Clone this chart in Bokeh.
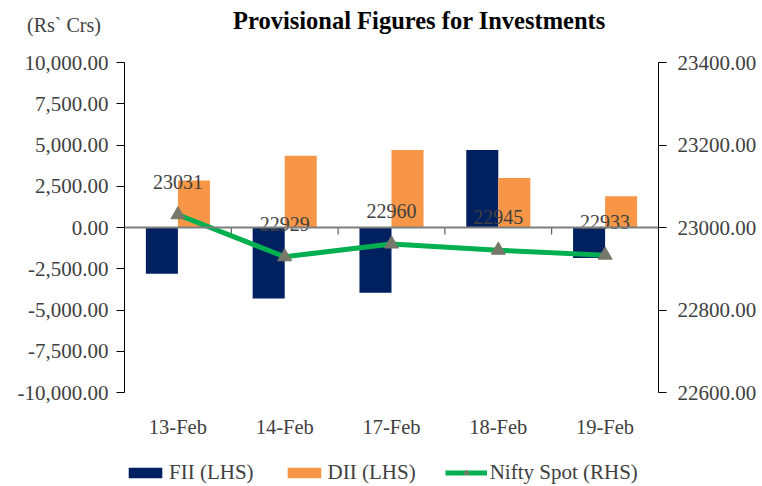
import math
from bokeh.plotting import figure
from bokeh.layouts import column
from bokeh.models import (ColumnDataSource, FactorRange, Range1d, LinearAxis, NumeralTickFormatter,
                          FixedTicker, Span, Legend, LegendItem, Div)
from bokeh.transform import dodge
from bokeh.core.properties import value
from bokeh.embed import file_html
from bokeh.resources import INLINE

# ---- data ----
dates = ["13-Feb", "14-Feb", "17-Feb", "18-Feb", "19-Feb"]
fii = [-2800, -4300, -3950, 4700, -1850]
dii = [2850, 4350, 4700, 3000, 1900]
nifty = [23031, 22929, 22960, 22945, 22933]
left_ticks = [-10000, -7500, -5000, -2500, 0, 2500, 5000, 7500, 10000]
right_ticks = [22600, 22800, 23000, 23200, 23400]
left_range = (-10000, 10000)
right_range = (22600, 23400)
title_text = "Provisional Figures for Investments"
unit_text = "(Rs` Crs)"
series_names = ["FII (LHS)", "DII (LHS)", "Nifty Spot (RHS)"]

FONT = "Liberation Serif"
NAVY = "#002060"
ORANGE = "#F79646"
GREEN = "#00B050"
MARK = "#77776A"
TXT = "#404040"

header = Div(
    text=(f'<div style="position:relative;width:753px;height:34px;font-family:\'{FONT}\',serif;">'
          f'<span style="position:absolute;left:22px;top:10px;font-size:20px;line-height:1;'
          f'color:{TXT};white-space:nowrap;">{unit_text}</span>'
          f'<span style="position:absolute;left:228px;top:4px;font-size:24.5px;line-height:1;'
          f'font-weight:bold;color:#000;white-space:nowrap;">{title_text}</span></div>'),
    width=753, height=34)

src = ColumnDataSource(dict(date=dates, fii=fii, dii=dii, nifty=nifty,
                            lbl=[str(v) for v in nifty]))
bsrc = ColumnDataSource(dict(date=dates[:-1], zero=[0] * (len(dates) - 1)))

p = figure(x_range=FactorRange(factors=dates), y_range=Range1d(*left_range), title=None,
           frame_width=534, frame_height=330, output_backend="svg", toolbar_location=None,
           min_border_left=124, min_border_right=95, min_border_top=18, min_border_bottom=63)
p.extra_y_ranges = {"nifty": Range1d(*right_range)}
p.outline_line_color = None
p.xgrid.visible = False
p.ygrid.visible = False

# zero line
p.add_layout(Span(location=0, dimension="width", line_color="#7F7F7F", line_width=2))

r1 = p.vbar(x=dodge("date", -0.15, range=p.x_range), top="fii", bottom=0, width=0.3,
            source=src, fill_color=NAVY, line_color=None)
r2 = p.vbar(x=dodge("date", 0.15, range=p.x_range), top="dii", bottom=0, width=0.3,
            source=src, fill_color=ORANGE, line_color=None)

# boundary ticks on the zero line
p.ray(x=dodge("date", 0.5, range=p.x_range), y="zero", length=7, length_units="screen",
      angle=-math.pi / 2, source=bsrc, line_color="#404040", line_width=1)

rl = p.line(x="date", y="nifty", source=src, y_range_name="nifty",
            line_color=GREEN, line_width=5)
rs = p.scatter(x="date", y="nifty", source=src, y_range_name="nifty", marker="triangle",
               size=14, fill_color=MARK, line_color=MARK)
p.text(x="date", y="nifty", text="lbl", source=src, y_range_name="nifty",
       text_font=value(FONT), text_font_size="20px", text_color=TXT,
       text_align="center", text_baseline="middle", y_offset=-33)

# axes
xa = p.xaxis[0]
xa.axis_line_color = None
xa.major_tick_line_color = None
xa.major_label_standoff = 17
xa.major_label_text_font = FONT
xa.major_label_text_font_size = "20.5px"
xa.major_label_text_color = TXT

ya = p.yaxis[0]
ya.ticker = FixedTicker(ticks=left_ticks)
ya.formatter = NumeralTickFormatter(format="0,0.00")
ya.minor_tick_line_color = None
ya.major_tick_in = 0
ya.major_tick_out = 8
ya.major_label_standoff = 8
ya.axis_line_color = "black"
ya.major_label_text_font = FONT
ya.major_label_text_font_size = "21px"
ya.major_label_text_color = TXT

ra = LinearAxis(y_range_name="nifty", ticker=FixedTicker(ticks=right_ticks),
                formatter=NumeralTickFormatter(format="0.00"))
ra.minor_tick_line_color = None
ra.major_tick_in = 0
ra.major_tick_out = 8
ra.major_label_standoff = 11
ra.axis_line_color = "black"
ra.major_label_text_font = FONT
ra.major_label_text_font_size = "21px"
ra.major_label_text_color = TXT
p.add_layout(ra, "right")

# ---- legend strip: its own small figure; key renderers reuse the series data and styles
# but sit on numeric ranges, so only their legend swatches are drawn ----
lg = figure(width=753, height=30, min_border=0, x_axis_type=None, y_axis_type=None,
            x_range=Range1d(0, 1), y_range=Range1d(0, 1),
            output_backend="svg", toolbar_location=None, title=None)
lg.outline_line_color = None
lg.xgrid.visible = False
lg.ygrid.visible = False
k1 = lg.vbar(x="date", top="fii", width=0.3, source=src, fill_color=NAVY, line_color=None)
k2 = lg.vbar(x="date", top="dii", width=0.3, source=src, fill_color=ORANGE, line_color=None)
kl = lg.line(x="date", y="nifty", source=src, line_color=GREEN, line_width=5)
ks = lg.scatter(x="date", y="nifty", source=src, marker="triangle", size=14,
                fill_color=MARK, line_color=MARK)

legend = Legend(items=[LegendItem(label=series_names[0], renderers=[k1]),
                       LegendItem(label=series_names[1], renderers=[k2]),
                       LegendItem(label=series_names[2], renderers=[kl, ks])],
                orientation="horizontal", location=(0, 0),
                glyph_width=42, glyph_height=13, label_standoff=3, spacing=29,
                border_line_color=None, background_fill_alpha=0,
                label_text_font=FONT, label_text_font_size="21px", label_text_color=TXT,
                padding=0, margin=0)
lg.add_layout(legend, "center")

layout = column(header, p, lg, spacing=0)
open("out.html", "w").write(file_html(layout, INLINE))
